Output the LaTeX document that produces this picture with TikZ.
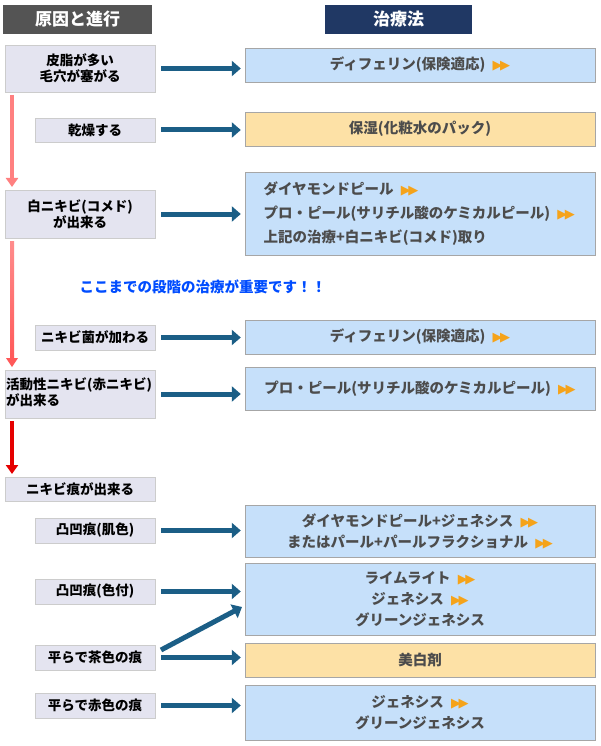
\documentclass[tikz,border=0pt]{standalone}
\usepackage{fontspec}
\setmainfont{Noto Sans CJK JP}
\newfontfamily\dv{DejaVu Sans}
\usetikzlibrary{arrows.meta}
\definecolor{lbox}{HTML}{E4E4F0}
\definecolor{rblue}{HTML}{C6E0FA}
\definecolor{rorg}{HTML}{FDE1A6}
\definecolor{navyarr}{HTML}{1B5E86}
\definecolor{hdr}{HTML}{203864}
\definecolor{orng}{HTML}{F5A31A}
\newcommand{\ff}{\enspace{\color{orng}\dv\fontsize{13}{13}\selectfont ▶\kern-2.5pt▶}}
\begin{document}
\begin{tikzpicture}[x=1pt,y=-1pt,
 lb/.style={draw=black!20,fill=lbox,font=\fontsize{13.5}{16}\selectfont\bfseries,align=center,inner sep=0pt},
 rb/.style={draw=black!35,fill=rblue,font=\fontsize{14.5}{21}\selectfont\bfseries,text=black!70,align=center,inner sep=0pt},
 ba/.style={navyarr,line width=5pt,-{Triangle[length=9pt,width=15pt]},shorten <=6pt,shorten >=4pt},
 pa/.style={line width=4pt,-{Triangle[length=9pt,width=12pt]}}]
\useasboundingbox (0,0) rectangle (600,746);
\node[fill=black!67,text=white,font=\fontsize{17}{17}\selectfont\bfseries,minimum width=149pt,minimum height=29pt,inner sep=0pt] (h1) at (77.5,19.5) {原因と進行};
\node[fill=hdr,text=white,font=\fontsize{17}{17}\selectfont\bfseries,minimum width=147pt,minimum height=29pt,inner sep=0pt] (h2) at (398.5,19.5) {治療法};
% left boxes
\node[lb,minimum width=150pt,minimum height=47pt] (l1) at (80,68.5) {皮脂が多い\\毛穴が塞がる};
\node[lb,minimum width=120pt,minimum height=24pt] (l2) at (95,130) {乾燥する};
\node[lb,minimum width=150pt,minimum height=48pt] (l3) at (80,214) {白ニキビ(コメド)\\が出来る};
\node[lb,minimum width=120pt,minimum height=25pt] (l4) at (95,337.5) {ニキビ菌が加わる};
\node[lb,minimum width=150pt,minimum height=48pt] (l5) at (80,394) {};
\node[font=\fontsize{13.5}{16}\selectfont\bfseries,align=left,anchor=west,inner sep=0pt] (l5t) at (6,392) {活動性ニキビ(赤ニキビ)\\が出来る};
\node[lb,minimum width=150pt,minimum height=24pt] (l6) at (80,489) {ニキビ痕が出来る};
\node[lb,minimum width=120pt,minimum height=25pt] (l7) at (95,530.5) {凸凹痕(肌色)};
\node[lb,minimum width=120pt,minimum height=25pt] (l8) at (95,591.5) {凸凹痕(色付)};
\node[lb,minimum width=120pt,minimum height=25pt] (l9) at (95,657.5) {平らで茶色の痕};
\node[lb,minimum width=120pt,minimum height=25pt] (l10) at (95,705.5) {平らで赤色の痕};
% right boxes
\node[rb,minimum width=350pt,minimum height=34pt] (r1) at (420,65) {ディフェリン(保険適応)\ff};
\node[rb,fill=rorg,minimum width=350pt,minimum height=34pt] (r2) at (420,129) {保湿(化粧水のパック)};
\node[rb,minimum width=350pt,minimum height=83pt] (r3) at (420,213.5) {};
\node[font=\fontsize{14.5}{24}\selectfont\bfseries,text=black!70,align=left,anchor=west] (r3t) at (260,213.5) {ダイヤモンドピール\ff\\プロ・ピール(サリチル酸のケミカルピール)\ff\\上記の治療+白ニキビ(コメド)取り};
\node[font=\fontsize{14.5}{16}\selectfont\bfseries,text=blue!70!cyan,anchor=west] (note) at (76,287) {ここまでの段階の治療が重要です！！};
\node[rb,minimum width=350pt,minimum height=34pt] (r4) at (420,337) {ディフェリン(保険適応)\ff};
\node[rb,minimum width=350pt,minimum height=43pt] (r5) at (420,388.5) {プロ・ピール(サリチル酸のケミカルピール)\ff};
\node[rb,minimum width=350pt,minimum height=52pt] (r6) at (420,531) {ダイヤモンドピール+ジェネシス\ff\\またはパール+パールフラクショナル\ff};
\node[rb,minimum width=350pt,minimum height=72pt] (r7) at (420,599) {ライムライト\ff\\ジェネシス\ff\\グリーンジェネシス};
\node[rb,fill=rorg,minimum width=350pt,minimum height=34pt] (r8) at (420,660) {美白剤};
\node[rb,minimum width=350pt,minimum height=55pt] (r9) at (420,712.5) {ジェネシス\ff\\グリーンジェネシス};
% blue arrows
\foreach \l/\r in {l1/r1,l2/r2,l3/r3,l4/r4,l5/r5,l7/r6,l8/r7,l9/r8,l10/r9}
  \draw[ba] (\l.east) -- (\l.east -| \r.west);
\coordinate (d1) at (161,650);
\coordinate (d2) at (242,607);
\draw[ba,shorten <=0pt,shorten >=0pt] (d1) -- (d2);
% pink arrows
\coordinate (p1) at (12,95); \coordinate (p2) at (12,187);
\coordinate (p4) at (12,367);
\coordinate (p5) at (12,421); \coordinate (p6) at (12,474);
\draw[pa,color=red!50!white] (p1) -- (p2);
\shade[top color=red!45!white,bottom color=red!65!white] (10,241) rectangle (14,358);
\draw[pa,color=red!65!white,line width=0pt] (12,358) -- (p4);
\draw[pa,color=red!90!black] (p5) -- (p6);
\end{tikzpicture}
\end{document}
